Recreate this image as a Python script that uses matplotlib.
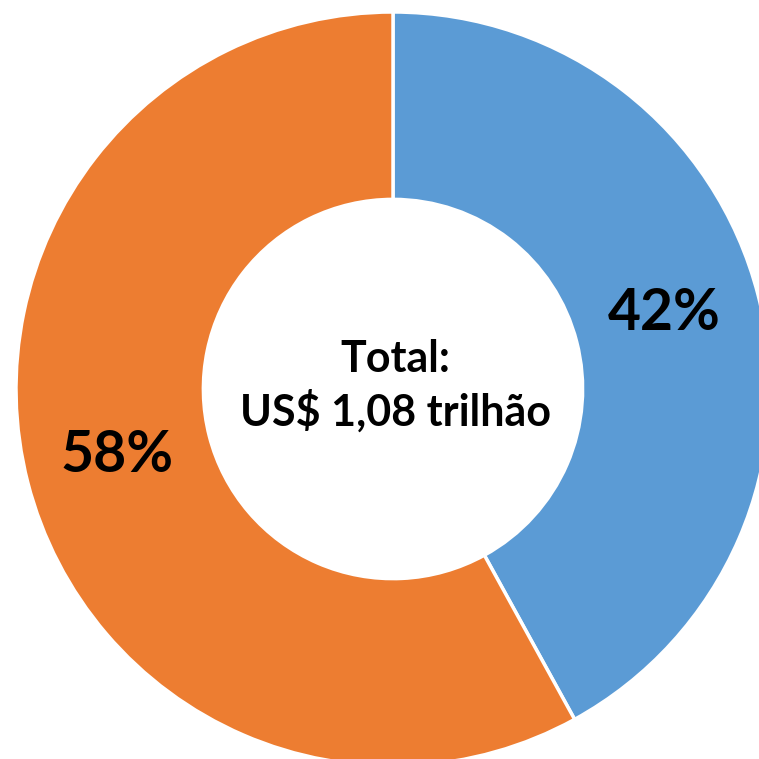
import matplotlib.pyplot as plt

# dados (participação %)
shares = [42, 58]
share_labels = ['42%', '58%']
colors = ['#5B9BD5', '#ED7D31']
center_text = 'Total:\nUS$ 1,08 trilhão'

plt.rcParams['font.family'] = ['Lato', 'DejaVu Sans']

fig = plt.figure(figsize=(7.59, 7.59), dpi=100)
ax = fig.add_axes([0, 0, 1, 1])

# donut (centro em pixels, y de baixo p/ cima)
cx, cy, r = 393, 370, 377
wedges, _ = ax.pie(shares, colors=colors, startangle=90, counterclock=False,
                   center=(cx, cy), radius=r, frame=True,
                   wedgeprops=dict(width=r * 0.497, edgecolor='white', linewidth=2.5))
ax.set_xlim(0, 759)
ax.set_ylim(0, 759)
ax.set_aspect('equal')
ax.axis('off')

# rótulos de porcentagem
ax.text(664, 759 - 313, share_labels[0], ha='center', va='center',
        fontsize=41, fontweight='bold', color='black')
ax.text(117, 759 - 455, share_labels[1], ha='center', va='center',
        fontsize=41, fontweight='bold', color='black')

ax.text(cx + 2, 759 - 386, center_text, ha='center', va='center',
        fontsize=31, fontweight='bold', color='black', linespacing=1.3)

fig.savefig('out.png', dpi=100)
